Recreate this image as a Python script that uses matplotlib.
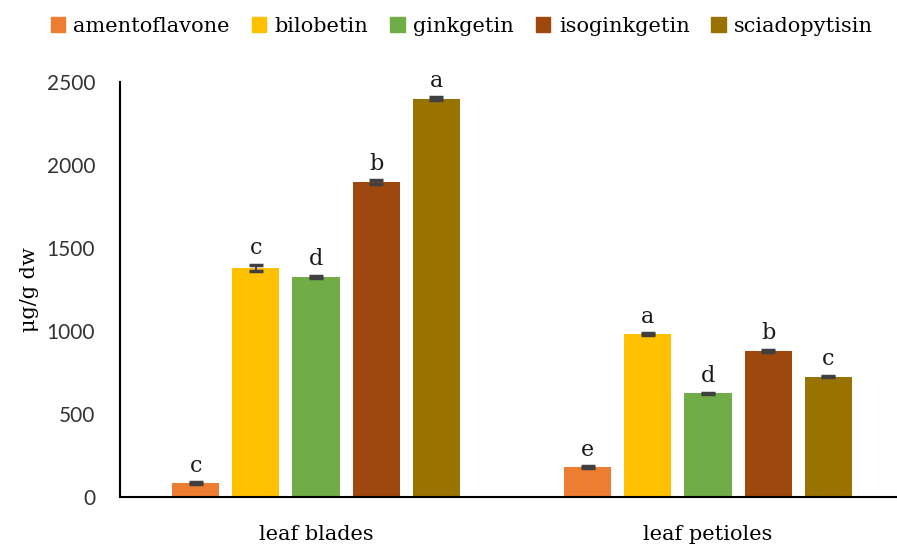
import matplotlib
matplotlib.use('Agg')
import matplotlib.pyplot as plt
import numpy as np
from matplotlib.patches import Patch

groups = ['leaf blades', 'leaf petioles']
compounds = ['amentoflavone', 'bilobetin', 'ginkgetin', 'isoginkgetin', 'sciadopytisin']
colors = ['#ED7D31', '#FFC000', '#70AD47', '#9E480E', '#997300']

amentoflavone = [85, 180]
bilobetin = [1380, 980]
ginkgetin = [1325, 625]
isoginkgetin = [1897, 880]
sciadopytisin = [2400, 725]

amentoflavone_err = [5, 5]
bilobetin_err = [18, 6]
ginkgetin_err = [7, 4]
isoginkgetin_err = [10, 6]
sciadopytisin_err = [8, 4]

amentoflavone_sig = ['c', 'e']
bilobetin_sig = ['c', 'a']
ginkgetin_sig = ['d', 'd']
isoginkgetin_sig = ['b', 'b']
sciadopytisin_sig = ['a', 'c']

values = [amentoflavone, bilobetin, ginkgetin, isoginkgetin, sciadopytisin]
errors = [amentoflavone_err, bilobetin_err, ginkgetin_err, isoginkgetin_err, sciadopytisin_err]
letters = [amentoflavone_sig, bilobetin_sig, ginkgetin_sig, isoginkgetin_sig, sciadopytisin_sig]

serif = 'DejaVu Serif'
fig = plt.figure(figsize=(8.97, 5.44), dpi=100)
ax = fig.add_axes([0.1338, 0.0864, 0.874, 0.763])

x = np.arange(len(groups))
step = 0.1535
width = 0.12
for i, name in enumerate(compounds):
    pos = x + (i - 2) * step
    ax.bar(pos, values[i], width, color=colors[i], label=name,
           yerr=errors[i], error_kw=dict(ecolor='#404040', elinewidth=1.5, capsize=5, capthick=2.5))
    for j in range(len(groups)):
        ax.annotate(letters[i][j], (pos[j], values[i][j] + errors[i][j]),
                    xytext=(0, 4), textcoords='offset points', ha='center', va='bottom',
                    fontsize=16, family=serif, color='#1a1a1a')

ax.set_xlim(-0.5, 1.5)
ax.set_ylim(0, 2500)
ax.set_yticks([0, 500, 1000, 1500, 2000, 2500])
ax.set_xticks(x)
ax.set_xticklabels(groups, fontsize=15, family=serif)
ax.tick_params(axis='both', length=0)
ax.tick_params(axis='y', pad=18, labelsize=15, labelcolor='#333333')
ax.tick_params(axis='x', pad=20)
for lab in ax.get_yticklabels():
    lab.set_family('Lato')
ax.set_ylabel('μg/g dw', fontsize=15, family=serif)
ax.yaxis.set_label_coords(-0.103, 0.5)
for s in ['top', 'right']:
    ax.spines[s].set_visible(False)
ax.spines['left'].set_linewidth(1.5)
ax.spines['bottom'].set_linewidth(1.5)

handles = [Patch(color=c) for c in colors]
fig.legend(handles, compounds, loc='center', bbox_to_anchor=(0.515, 0.952), ncol=5,
           frameon=False, prop={'family': serif, 'size': 15}, handlelength=0.7,
           handleheight=0.7, handletextpad=0.4, columnspacing=1.05)

fig.savefig('out.png', dpi=100)
